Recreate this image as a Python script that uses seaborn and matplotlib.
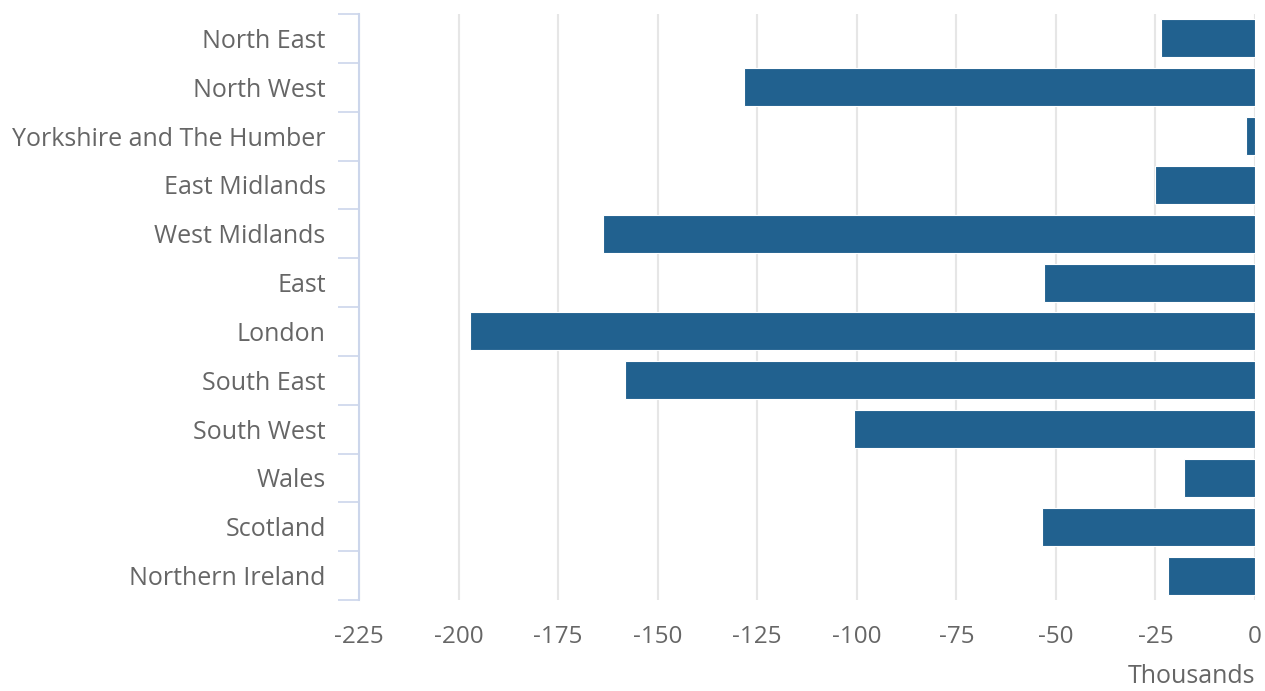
import matplotlib
matplotlib.use("Agg")
import matplotlib.pyplot as plt
import seaborn as sns
import pandas as pd
import numpy as np

regions = ["North East", "North West", "Yorkshire and The Humber", "East Midlands",
           "West Midlands", "East", "London", "South East", "South West", "Wales",
           "Scotland", "Northern Ireland"]
values = [-23.6, -128.3, -2.3, -25.1, -163.7, -53.0, -197.1, -158.2, -100.7, -17.8, -53.5, -21.8]
x_ticks = [-225, -200, -175, -150, -125, -100, -75, -50, -25, 0]

sns.set_theme(style="white")
plt.rcParams['font.family'] = ['Open Sans', 'DejaVu Sans']

df = pd.DataFrame({"region": regions, "value": values})

fig = plt.figure(figsize=(12.65, 6.91), dpi=100)
ax = fig.add_axes([359/1265, 1-600/691, (1255-359)/1265, (600-14)/691])

sns.barplot(data=df, x="value", y="region", orient="h", color="#21618f",
            width=0.78, edgecolor="white", linewidth=0.8, ax=ax, zorder=3, saturation=1)

ax.set_xlim(-225, 0)
ax.set_ylim(len(regions) - 0.5, -0.5)
ax.set_xticks(x_ticks)
ax.set_xticklabels([str(t) for t in x_ticks])
ax.grid(axis="x", color="#e6e6e6", linewidth=1.5, zorder=0)
ax.set_axisbelow(True)

for s in ["top", "right", "bottom"]:
    ax.spines[s].set_visible(False)
ax.spines["left"].set_color("#ccd6eb")
ax.spines["left"].set_linewidth(1.5)

ax.set_yticks(np.arange(len(regions) + 1) - 0.5, minor=True)
ax.tick_params(axis="y", which="minor", left=True, length=15, color="#ccd6eb", width=1.2)
ax.tick_params(axis="y", which="major", left=False, length=0, pad=24, labelsize=18, labelcolor="#666666")
ax.tick_params(axis="x", length=0, pad=18, labelsize=17.5, labelcolor="#666666")

ax.set_ylabel("")
ax.set_xlabel("Thousands", fontsize=18, color="#666666", loc="right", labelpad=11)

fig.savefig("out.png", dpi=100)
